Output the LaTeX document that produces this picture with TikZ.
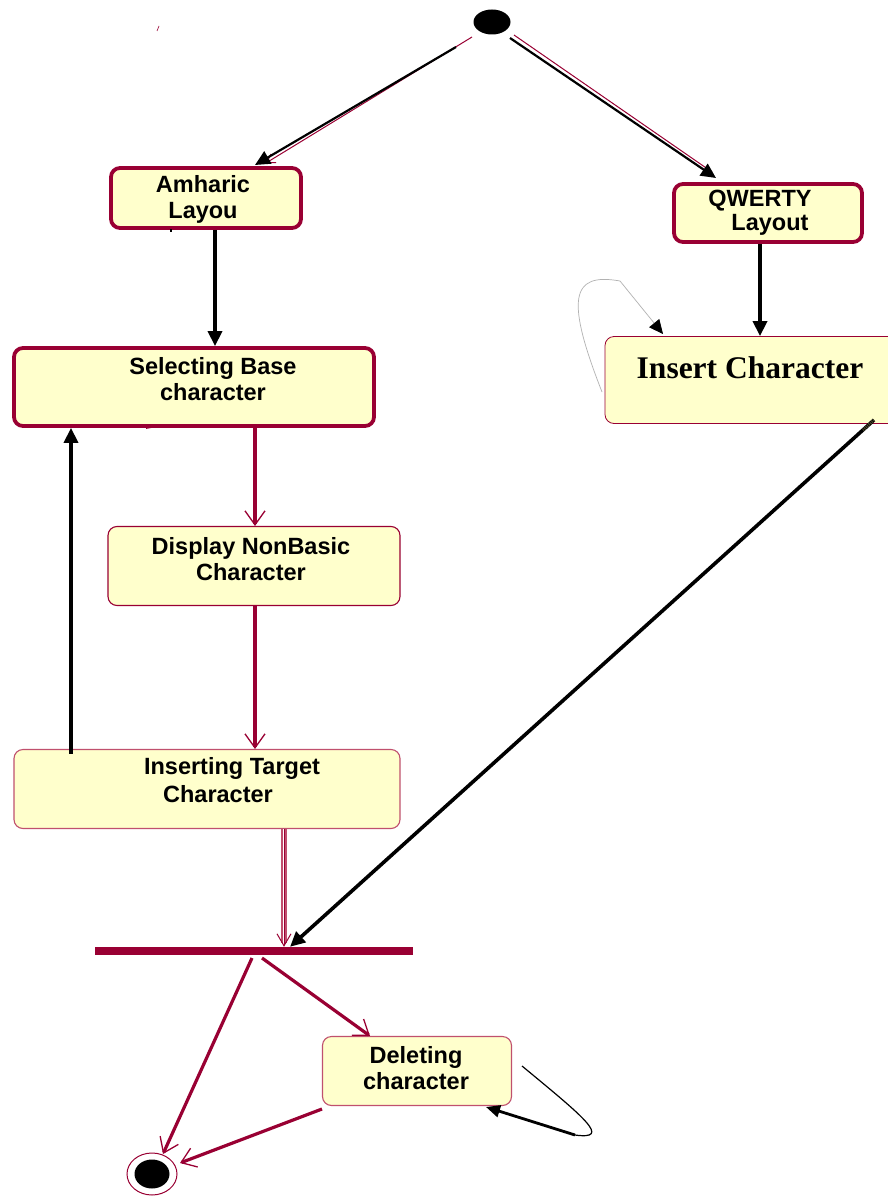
\documentclass[tikz,border=0pt]{standalone}
\usepackage{fontspec}
\setmainfont{Liberation Sans}
\newfontfamily\timesbold{Liberation Serif}
\usetikzlibrary{arrows.meta,shapes.geometric}
\definecolor{maroon}{HTML}{990033}
\definecolor{pinkline}{HTML}{C0506E}
\definecolor{boxfill}{HTML}{FFFFCC}
\tikzset{
  x=1pt, y=-1pt,
  thickbox/.style={draw=maroon, line width=3.8pt, fill=boxfill, rounded corners=9pt, inner sep=0pt},
  thinbox/.style={draw=maroon, line width=1.1pt, fill=boxfill, rounded corners=9pt, inner sep=0pt},
  lbl/.style={font=\fontsize{23.5}{26}\selectfont\bfseries, align=center, inner sep=0pt},
  blackarr/.style={draw=black, line width=3.6pt, -{Triangle[length=15pt,width=14pt]}},
  marr/.style={draw=maroon, line width=3.2pt, -{Straight Barb[length=14pt,width=20pt,line width=1.3pt]}},
  mthin/.style={draw=maroon, line width=1pt, -{Straight Barb[length=12pt,width=14pt,line width=1pt]}},
}
\begin{document}
\begin{tikzpicture}
\useasboundingbox (0,0) rectangle (888,1196);
\fill[white] (0,0) rectangle (888,1196);

% initial and final states
\node[ellipse, fill=black, minimum width=37pt, minimum height=25pt, inner sep=0pt] (init) at (492,22) {};
\node[ellipse, draw=maroon, line width=1pt, fill=white, minimum width=50pt, minimum height=42pt, inner sep=0pt] (final) at (152,1174) {};
\node[ellipse, fill=black, minimum width=35pt, minimum height=29pt, inner sep=0pt] (finalin) at (152,1174) {};

% boxes
\node[thickbox, minimum width=190pt, minimum height=60pt] (amh) at (206,198) {};
\node[lbl] (amht) at (203,199) {Amharic\\Layou};
\node[thickbox, minimum width=188pt, minimum height=58pt] (qw) at (768,213) {};
\node[lbl] (qwt1) at (760,201) {QWERTY};
\node[lbl] (qwt2) at (770,225) {Layout};
\node[draw=maroon, line width=0.8pt, fill=boxfill, rounded corners=9pt, minimum width=300pt, minimum height=87pt, inner sep=0pt] (ins) at (755,380) {};
\node[font=\timesbold\fontsize{31.5}{34}\selectfont\bfseries, inner sep=0pt] (inst) at (750,368) {Insert Character};
\node[thickbox, minimum width=360pt, minimum height=78pt] (sel) at (194,387) {};
\node[lbl] (selt) at (213,379) {Selecting Base\\character};
\node[thinbox, minimum width=292pt, minimum height=79pt] (disp) at (254,566) {};
\node[lbl] (dispt) at (251,559) {Display NonBasic\\Character};
\node[thinbox, draw=pinkline, minimum width=386pt, minimum height=79pt] (inse) at (207,789) {};
\node[lbl] (inset1) at (232,768) {Inserting Target};
\node[lbl] (inset2) at (218,794) {Character};
\node[thinbox, draw=pinkline, minimum width=189pt, minimum height=69pt] (del) at (417,1071) {};
\node[lbl] (delt) at (416,1068) {Deleting\\character};

% synchronisation bar
\node[fill=maroon, minimum width=318pt, minimum height=8pt, inner sep=0pt] (bar) at (254,951) {};

% stray marks
\coordinate (s1) at (157,31); \coordinate (s2) at (159,26);
\draw[maroon, line width=0.6pt] (s1) -- (s2);
\coordinate (s3) at (171,229); \coordinate (s4) at (171,232);
\draw[black, line width=1.5pt] (s3) -- (s4);

% initial -> layouts
\coordinate (i1) at (456,47); \coordinate (i1m) at (472,37);
\coordinate (a1) at (255,165); \coordinate (a1m) at (266,163);
\draw[maroon, line width=1pt, -{Straight Barb[length=8pt,width=10pt,line width=1pt]}] (i1m) -- (a1m);
\draw[blackarr, line width=2.2pt] (i1) -- (a1);
\coordinate (i2) at (510,38); \coordinate (q1) at (716,178);
\coordinate (i2m) at (514,35); \coordinate (q1m) at (712,172);
\draw[maroon, line width=1pt] (i2m) -- (q1m);
\draw[blackarr, line width=2.2pt] (i2) -- (q1);

% layout -> next
\draw[blackarr] (amh.south -| 215,0) -- (sel.north -| 215,0);
\draw[blackarr] (qw.south -| 760,0) -- (ins.north -| 760,0);

% insert self loop
\coordinate (l1) at (602,392); \coordinate (l2) at (663,334);
\draw[gray!60, line width=0.7pt] (l1) .. controls (566,300) and (570,272) .. (620,281);
\coordinate (l3) at (620,281);
\draw[gray!60, line width=0.7pt, -{Triangle[length=14pt,width=13pt,black]}] (l3) -- (l2);

% long diagonal
\coordinate (d1) at (874,420);
\draw[blackarr] (d1) -- (bar.north -| 290,0);
\draw[black!60!olive, line width=3pt, dash pattern=on 1pt off 1pt] (d1) -- (863,430);

% left chain
\draw[marr] (sel.south -| 255,0) -- (disp.north -| 255,0);
\draw[marr] (disp.south -| 255,0) -- (inse.north -| 255,0);
\draw[blackarr] (inse.north -| 71,0) ++(0,5) -- (sel.south -| 71,0);
\coordinate (bs) at (146,428); \coordinate (be) at (157,426);
\draw[maroon, line width=1.8pt] (bs) -- (be);

% inserting -> bar (double thin)
\draw[draw=pinkline, line width=2.6pt, double=white, double distance=1.2pt] (inse.south -| 284,0) -- (284,943);
\draw[mthin] (inse.south -| 284,0) -- (bar.north -| 284,0);

% bar -> deleting / final
\coordinate (b1) at (262,958); \coordinate (b2) at (252,958);
\draw[marr] (b1) -- (del.north -| 370,0);
\coordinate (f1) at (163,1154);
\draw[marr] (b2) -- (f1);
\coordinate (dl) at (322,1109); \coordinate (f2) at (180,1163);
\draw[marr] (dl) -- (f2);

% deleting self loop
\coordinate (c1) at (522,1066); \coordinate (c2) at (486,1107);
\draw[black, line width=1.2pt] (c1) .. controls (585,1118) and (612,1140) .. (575,1135);
\coordinate (c3) at (575,1135);
\draw[black, line width=2.8pt, -{Triangle[length=14pt,width=12pt]}] (c3) -- (c2);
\end{tikzpicture}
\end{document}
